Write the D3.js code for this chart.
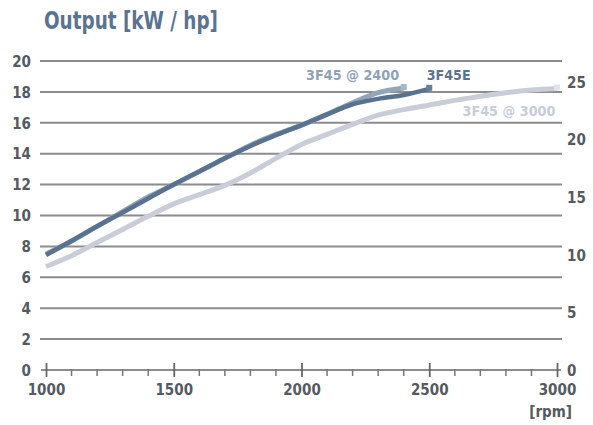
<!DOCTYPE html>
<html><head><meta charset="utf-8">
<script src="https://cdn.jsdelivr.net/npm/d3@7"></script>
<style>
html,body{margin:0;padding:0;background:#fff;}
svg{display:block;}
text{font-family:"DejaVu Sans Condensed","Liberation Sans Narrow","DejaVu Sans",sans-serif;}
</style></head>
<body>
<svg id="chart" width="593" height="425"></svg>
<script>
const rpm = [1000,1100,1200,1300,1400,1500,1600,1700,1800,1900,2000,2100,2200,2300,2400,2500,2600,2700,2800,2900,3000];
const kw3F45E   = [7.45,8.35,9.3,10.2,11.1,12.0,12.85,13.7,14.5,15.2,15.85,16.55,17.2,17.55,17.8,18.2];
const kw3F452400= [7.5,8.35,9.3,10.25,11.2,12.0,12.85,13.7,14.55,15.25,15.85,16.55,17.3,17.95,18.25];
const kw3F453000= [6.7,7.4,8.25,9.1,9.95,10.75,11.35,11.95,12.75,13.7,14.6,15.25,15.9,16.5,16.85,17.15,17.45,17.72,17.95,18.12,18.22];
const seriesNames = ["3F45 @ 3000","3F45 @ 2400","3F45E"];
const kwTicks = [0,2,4,6,8,10,12,14,16,18,20];
const hpTicks = [0,5,10,15,20,25];
const rpmTicks = [1000,1500,2000,2500,3000];
const rpmMinor = d3.range(1000,3001,100);
const KW_PER_HP = 0.7457;

const svg = d3.select("#chart");
const x = d3.scaleLinear().domain([1000,3000]).range([46,557]);
const y = d3.scaleLinear().domain([0,20]).range([370,61]);
const y2 = d3.scaleLinear().domain([0,20/KW_PER_HP]).range([370,61]);

const gridCol = "#8c8c8c", labelCol = "#555a60";

// title
svg.append("text").attr("x",44).attr("y",29)
  .attr("font-size",25).attr("font-weight","bold").attr("fill","#5a7390")
  .attr("textLength",174).attr("lengthAdjust","spacingAndGlyphs")
  .text("Output [kW / hp]");

// gridlines
svg.append("g").selectAll("line").data(kwTicks.filter(d=>d>0)).join("line")
  .attr("x1",40).attr("x2",562).attr("y1",d=>y(d)).attr("y2",d=>y(d))
  .attr("stroke",gridCol).attr("stroke-width",2);

// left axis labels
const yAxis = d3.axisLeft(y).tickValues(kwTicks).tickSize(0).tickPadding(0).tickFormat(d3.format("d"));
const gy = svg.append("g").attr("transform","translate(31,0)").call(yAxis);
gy.select(".domain").remove();
gy.selectAll("text").attr("font-size",15).attr("font-weight","bold").attr("fill",labelCol)
  .attr("font-family",null).attr("dy","0.35em");

// right axis labels
const y2Axis = d3.axisRight(y2).tickValues(hpTicks).tickSize(0).tickPadding(0).tickFormat(d3.format("d"));
const gy2 = svg.append("g").attr("transform","translate(567,0)").call(y2Axis);
gy2.select(".domain").remove();
gy2.selectAll("text").attr("font-size",15).attr("font-weight","bold").attr("fill",labelCol)
  .attr("font-family",null).attr("dy","0.35em");

// x axis line + ticks
svg.append("line").attr("x1",41).attr("x2",561).attr("y1",y(0)).attr("y2",y(0))
  .attr("stroke",gridCol).attr("stroke-width",2);
svg.append("g").selectAll("line").data(rpmMinor.filter(d=>!rpmTicks.includes(d))).join("line")
  .attr("x1",d=>x(d)).attr("x2",d=>x(d)).attr("y1",y(0)-1).attr("y2",y(0)+6)
  .attr("stroke","#777").attr("stroke-width",1.5);
const xAxis = d3.axisBottom(x).tickValues(rpmTicks).tickSize(0).tickPadding(0).tickFormat(d3.format("d"));
const gx = svg.append("g").call(xAxis);
gx.select(".domain").remove();
gx.selectAll(".tick line").remove();
gx.selectAll(".tick").append("line").attr("y1",y(0)-7).attr("y2",y(0)+7)
  .attr("stroke","#666").attr("stroke-width",1.8);
gx.selectAll("text").attr("y",y(0)+20).attr("dy","0.35em").attr("font-size",15)
  .attr("font-weight","bold").attr("fill",labelCol).attr("font-family",null);
svg.append("text").attr("x",572).attr("y",417).attr("text-anchor","end")
  .attr("font-size",15).attr("font-weight","bold").attr("fill",labelCol).text("[rpm]");

// series
const line = d3.line().x(d=>x(d[0])).y(d=>y(d[1])).curve(d3.curveMonotoneX);
const data3000 = kw3F453000.map((v,i)=>[rpm[i],v]);
const data2400 = kw3F452400.map((v,i)=>[rpm[i],v]);
const dataE = kw3F45E.map((v,i)=>[rpm[i],v]);
const series = [
  {name:seriesNames[0], data:data3000, color:"#c8cdd8", w:5},
  {name:seriesNames[1], data:data2400, color:"#92a5ba", w:5},
  {name:seriesNames[2], data:dataE, color:"#587290", w:4.5}
];
svg.append("g").selectAll("path").data(series).join("path")
  .attr("d",d=>line(d.data)).attr("fill","none")
  .attr("stroke",d=>d.color).attr("stroke-width",d=>d.w).attr("stroke-linejoin","round");
// end markers
svg.append("g").selectAll("rect").data(series).join("rect")
  .attr("x",d=>x(d.data[d.data.length-1][0])-3).attr("y",d=>y(d.data[d.data.length-1][1])-4)
  .attr("width",6).attr("height",6).attr("fill",d=>d3.color(d.color).brighter(0.3));

// series labels
const lab = [
  {t:seriesNames[1], x:x(2018), y:80, c:"#8fa2b8", len:93},
  {t:seriesNames[2], x:x(2490), y:80, c:"#5a7390", len:44},
  {t:seriesNames[0], x:x(2630), y:116, c:"#c6ccd8", len:93}
];
svg.append("g").selectAll("text").data(lab).join("text")
  .attr("x",d=>d.x).attr("y",d=>d.y).attr("fill",d=>d.c)
  .attr("font-size",14).attr("font-weight","bold")
  .attr("textLength",d=>d.len).attr("lengthAdjust","spacingAndGlyphs")
  .text(d=>d.t);
</script>
</body></html>
